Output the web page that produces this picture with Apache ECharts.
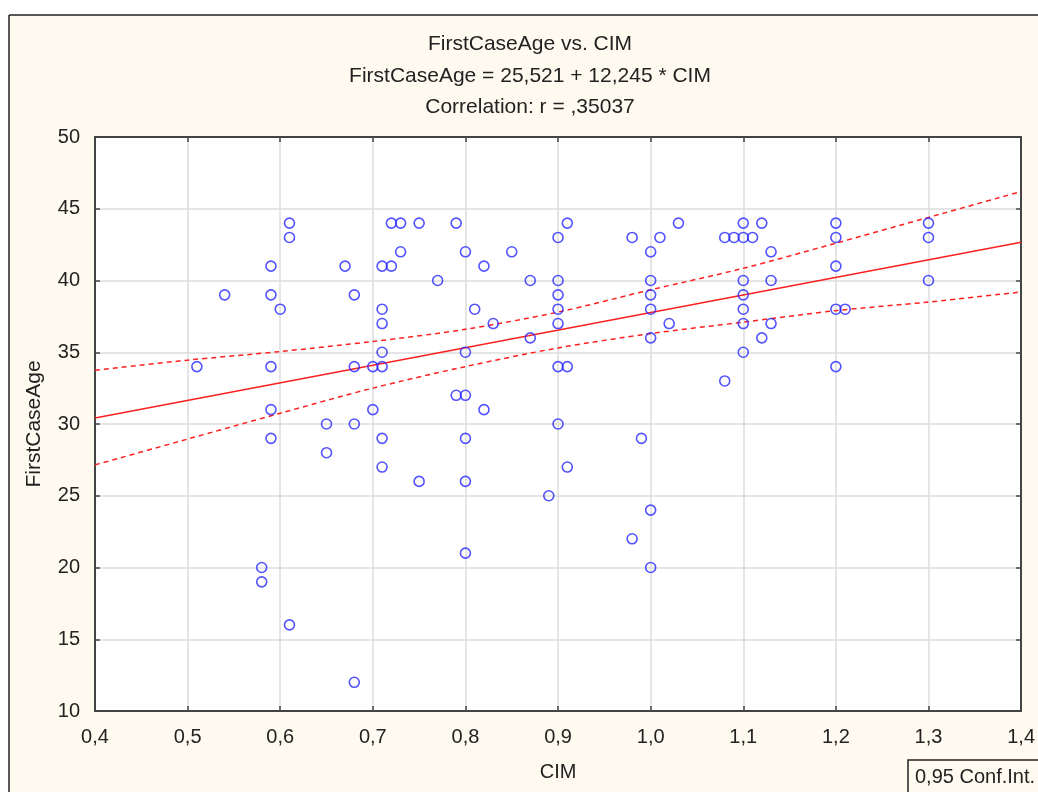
<!DOCTYPE html>
<html>
<head>
<meta charset="utf-8">
<style>
  html, body { margin: 0; padding: 0; background: #fff; }
  #scatter-cim { width: 1038px; height: 792px; }
</style>
<script src="https://cdn.jsdelivr.net/npm/echarts@6/dist/echarts.min.js"></script>
</head>
<body>
<div id="scatter-cim"></div>
<script>
// points
var cimValues = [
  0.51, 0.54, 0.58, 0.58, 0.59, 0.59, 0.59, 0.59, 0.59, 0.60,
  0.61, 0.61, 0.61, 0.65, 0.65, 0.67, 0.68, 0.68, 0.68, 0.68,
  0.70, 0.70, 0.71, 0.71, 0.71, 0.71, 0.71, 0.71, 0.71, 0.72,
  0.72, 0.73, 0.73, 0.75, 0.75, 0.77, 0.79, 0.79, 0.80, 0.80,
  0.80, 0.80, 0.80, 0.80, 0.81, 0.82, 0.82, 0.83, 0.85, 0.87,
  0.87, 0.89, 0.90, 0.90, 0.90, 0.90, 0.90, 0.90, 0.90, 0.91,
  0.91, 0.91, 0.98, 0.98, 0.99, 1.00, 1.00, 1.00, 1.00, 1.00,
  1.00, 1.00, 1.01, 1.02, 1.03, 1.08, 1.08, 1.09, 1.10, 1.10,
  1.10, 1.10, 1.10, 1.10, 1.10, 1.11, 1.12, 1.12, 1.13, 1.13,
  1.13, 1.20, 1.20, 1.20, 1.20, 1.20, 1.21, 1.30, 1.30, 1.30
];
var ageValues = [
  34, 39, 20, 19, 41, 39, 34, 31, 29, 38,
  44, 43, 16, 30, 28, 41, 39, 34, 30, 12,
  34, 31, 41, 38, 37, 35, 34, 29, 27, 44,
  41, 44, 42, 44, 26, 40, 44, 32, 42, 35,
  32, 29, 26, 21, 38, 41, 31, 37, 42, 40,
  36, 25, 43, 40, 39, 38, 37, 34, 30, 44,
  34, 27, 43, 22, 29, 42, 40, 39, 38, 36,
  24, 20, 43, 37, 44, 43, 33, 43, 44, 43,
  40, 39, 38, 37, 35, 43, 44, 36, 42, 40,
  37, 44, 43, 41, 38, 34, 38, 44, 43, 40
];

// fitted line ends (FirstCaseAge = 25,521 + 12,245 * CIM)
var fitX = [0.4, 1.4];
var fitY = [30.42, 42.66];

// 0,95 confidence band, read at each 0.1
var bandX = [0.4, 0.5, 0.6, 0.7, 0.8, 0.9, 1.0, 1.1, 1.2, 1.3, 1.4];
var bandUpper = [33.75, 34.45, 35.05, 35.75, 36.6, 37.8, 39.35, 40.85, 42.6, 44.4, 46.2];
var bandLower = [27.15, 28.95, 30.75, 32.5, 34.0, 35.3, 36.3, 37.1, 37.9, 38.5, 39.2];

var titleLines = [
  "FirstCaseAge vs. CIM",
  "FirstCaseAge = 25,521 + 12,245 * CIM",
  "Correlation: r = ,35037"
];

function zip(xs, ys) {
  return xs.map(function(x, i) { return [x, ys[i]]; });
}

var fontFam = 'Arial, "Liberation Sans", sans-serif';
var axisColor = "#444";
var cream = "#fffaef";

function commaFmt(digits) {
  return function(v) { return v.toFixed(digits).replace(".", ","); };
}

var chart = echarts.init(document.getElementById("scatter-cim"));

var option = {
  backgroundColor: cream,
  animation: false,
  grid: {
    left: 95,
    right: 15,
    top: 137,
    bottom: 81,
    show: true,
    backgroundColor: "#fff",
    borderWidth: 0
  },
  graphic: [
    // white margin above/left of the frame
    { type: "rect", shape: { x: 0, y: 0, width: 1038, height: 15 }, style: { fill: "#fff" }, silent: true },
    { type: "rect", shape: { x: 0, y: 0, width: 9, height: 792 }, style: { fill: "#fff" }, silent: true },
    { type: "line", shape: { x1: 9, y1: 15, x2: 1038, y2: 15 }, style: { stroke: "#222", lineWidth: 1.5 }, silent: true },
    { type: "line", shape: { x1: 9, y1: 15, x2: 9, y2: 792 }, style: { stroke: "#222", lineWidth: 1.5 }, silent: true },
    { type: "text", x: 530, y: 44, style: { text: titleLines[0], fill: "#222", font: "21px " + fontFam, textAlign: "center", textVerticalAlign: "middle" } },
    { type: "text", x: 530, y: 76, style: { text: titleLines[1], fill: "#222", font: "21px " + fontFam, textAlign: "center", textVerticalAlign: "middle" } },
    { type: "text", x: 530, y: 107, style: { text: titleLines[2], fill: "#222", font: "21px " + fontFam, textAlign: "center", textVerticalAlign: "middle" } },
    // legend box, cut by the right edge like the original
    { type: "rect", shape: { x: 908, y: 760, width: 160, height: 50 }, style: { fill: cream, stroke: "#222", lineWidth: 1.5 } },
    { type: "text", x: 915, y: 777, style: { text: "0,95 Conf.Int.", fill: "#222", font: "20px " + fontFam, textVerticalAlign: "middle" } }
  ],
  xAxis: [
    {
      type: "value",
      min: 0.4,
      max: 1.4,
      interval: 0.1,
      name: "CIM",
      nameLocation: "middle",
      nameGap: 51,
      nameTextStyle: { color: "#222", fontSize: 20, fontFamily: fontFam },
      axisLine: { show: true, onZero: false, lineStyle: { color: axisColor, width: 2 } },
      axisTick: { show: true, inside: true, length: 5, lineStyle: { color: axisColor, width: 1.5 } },
      axisLabel: { color: "#222", fontSize: 20, fontFamily: fontFam, margin: 16, formatter: commaFmt(1) },
      splitLine: { show: true, lineStyle: { color: "#dcdcdc", width: 1.5 } }
    },
    {
      type: "value",
      position: "top",
      min: 0.4,
      max: 1.4,
      interval: 0.1,
      axisLine: { show: true, onZero: false, lineStyle: { color: axisColor, width: 2 } },
      axisTick: { show: true, inside: true, length: 5, lineStyle: { color: axisColor, width: 1.5 } },
      axisLabel: { show: false },
      splitLine: { show: false }
    }
  ],
  yAxis: [
    {
      type: "value",
      min: 10,
      max: 50,
      interval: 5,
      name: "FirstCaseAge",
      nameLocation: "middle",
      nameGap: 50,
      nameTextStyle: { color: "#222", fontSize: 21, fontFamily: fontFam },
      axisLine: { show: true, onZero: false, lineStyle: { color: axisColor, width: 2 } },
      axisTick: { show: true, inside: true, length: 5, lineStyle: { color: axisColor, width: 1.5 } },
      axisLabel: { color: "#222", fontSize: 20, fontFamily: fontFam, margin: 15 },
      splitLine: { show: true, lineStyle: { color: "#dcdcdc", width: 1.5 } }
    },
    {
      type: "value",
      position: "right",
      min: 10,
      max: 50,
      interval: 5,
      axisLine: { show: true, onZero: false, lineStyle: { color: axisColor, width: 2 } },
      axisTick: { show: true, inside: true, length: 5, lineStyle: { color: axisColor, width: 1.5 } },
      axisLabel: { show: false },
      splitLine: { show: false }
    }
  ],
  series: [
    {
      name: "points",
      type: "scatter",
      symbol: "circle",
      symbolSize: 10,
      itemStyle: { color: "rgba(0,0,0,0)", borderColor: "#2828ff", borderWidth: 1.6 },
      data: zip(cimValues, ageValues),
      z: 5
    },
    {
      name: "fit",
      type: "line",
      showSymbol: false,
      lineStyle: { color: "#ff2020", width: 1.5 },
      data: zip(fitX, fitY),
      z: 3
    },
    {
      name: "upper",
      type: "line",
      smooth: 0.3,
      showSymbol: false,
      lineStyle: { color: "#ff2020", width: 1.5, type: [5, 4] },
      data: zip(bandX, bandUpper),
      z: 3
    },
    {
      name: "lower",
      type: "line",
      smooth: 0.3,
      showSymbol: false,
      lineStyle: { color: "#ff2020", width: 1.5, type: [5, 4] },
      data: zip(bandX, bandLower),
      z: 3
    }
  ]
};

chart.setOption(option);
window.addEventListener("resize", function() {
  chart.resize();
});
</script>
</body>
</html>
